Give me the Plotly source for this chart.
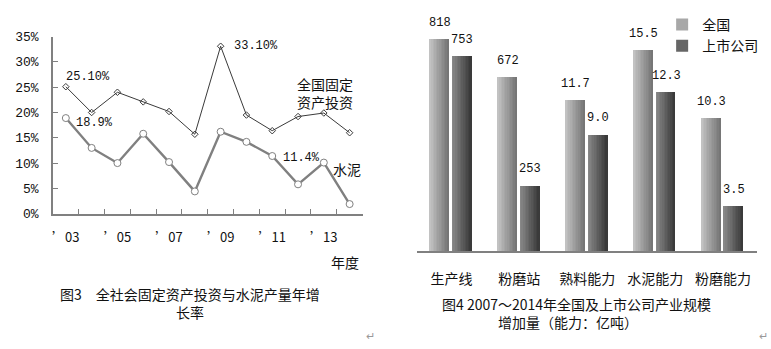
import plotly.graph_objects as go

# ---- Figure 3: annual growth rates (%) ----
years = ["2003", "2004", "2005", "2006", "2007", "2008",
         "2009", "2010", "2011", "2012", "2013", "2014"]
year_labels = ["\u201903", "", "\u201905", "", "\u201907", "",
               "\u201909", "", "\u201911", "", "\u201913", ""]
investment_growth = [25.1, 20.0, 24.0, 22.1, 20.2, 15.7,
                     33.1, 19.5, 16.4, 19.2, 19.9, 16.0]
cement_growth = [18.9, 13.0, 10.0, 15.8, 10.2, 4.4,
                 16.2, 14.2, 11.4, 5.8, 10.1, 1.9]
y_ticks = [0, 5, 10, 15, 20, 25, 30, 35]

# ---- Figure 4: 2007-2014 increments ----
count_items = ["生产线", "粉磨站"]
capacity_items = ["熟料能力", "水泥能力", "粉磨能力"]
national_counts = [818, 672]
listed_counts = [753, 253]
national_capacity = [11.7, 15.5, 10.3]
listed_capacity = [9.0, 12.3, 3.5]
count_labels_nat = ["818", "672"]
count_labels_lst = ["753", "253"]
cap_labels_nat = ["11.7", "15.5", "10.3"]
cap_labels_lst = ["9.0", "12.3", "3.5"]

CJK = "Noto Sans CJK SC"
MONO = "Liberation Mono"
AXIS_GRAY = "#808080"

fig = go.Figure()

# line chart
fig.add_trace(go.Scatter(
    x=years, y=investment_growth, mode="lines+markers",
    line=dict(color="#3a3a3a", width=1),
    marker=dict(symbol="diamond-open", size=5, color="#3a3a3a", line=dict(width=1)),
    xaxis="x", yaxis="y", showlegend=False, hoverinfo="skip"))
fig.add_trace(go.Scatter(
    x=years, y=cement_growth, mode="lines+markers",
    line=dict(color="#808080", width=2.4),
    marker=dict(symbol="circle", size=7, color="white",
                line=dict(color="#808080", width=1)),
    xaxis="x", yaxis="y", showlegend=False, hoverinfo="skip"))


def lerp_hex(c0, c1, t):
    a = [int(c0[i:i + 2], 16) for i in (1, 3, 5)]
    b = [int(c1[i:i + 2], 16) for i in (1, 3, 5)]
    return "#" + "".join(f"{round(a[j] + (b[j] - a[j]) * t):02x}" for j in range(3))


BAR_W = 0.284
N_STRIPES = 12
series = [
    ("全国", national_counts, national_capacity, -0.31, "#c2c2c2", "#767676", "#a8a8a8"),
    ("上市公司", listed_counts, listed_capacity, 0.02, "#888888", "#3a3a3a", "#666666"),
]

for name, counts, caps, off, c_left, c_right, c_mid in series:
    # base bar (also carries the legend entry)
    fig.add_trace(go.Bar(x=count_items, y=counts, offset=off, width=BAR_W,
                         marker=dict(color=c_mid, line=dict(width=0)),
                         name=name, xaxis="x2", yaxis="y3", hoverinfo="skip"))
    fig.add_trace(go.Bar(x=capacity_items, y=caps, offset=off, width=BAR_W,
                         marker=dict(color=c_mid, line=dict(width=0)),
                         name=name, showlegend=False, xaxis="x2", yaxis="y4",
                         hoverinfo="skip"))
    # horizontal shading drawn as thin vertical strips
    sw = BAR_W / N_STRIPES
    for k in range(N_STRIPES):
        col = lerp_hex(c_left, c_right, k / (N_STRIPES - 1))
        fig.add_trace(go.Bar(x=count_items, y=counts, offset=off + k * sw, width=sw * 1.05,
                             marker=dict(color=col, line=dict(width=0)),
                             showlegend=False, xaxis="x2", yaxis="y3", hoverinfo="skip"))
        fig.add_trace(go.Bar(x=capacity_items, y=caps, offset=off + k * sw, width=sw * 1.05,
                             marker=dict(color=col, line=dict(width=0)),
                             showlegend=False, xaxis="x2", yaxis="y4", hoverinfo="skip"))

annotations = []

# value labels above bars
PX_PER_CAT = 68.0
for items, vals, labels, yref, off in [
        (count_items, national_counts, count_labels_nat, "y3", -0.31),
        (count_items, listed_counts, count_labels_lst, "y3", 0.02),
        (capacity_items, national_capacity, cap_labels_nat, "y4", -0.31),
        (capacity_items, listed_capacity, cap_labels_lst, "y4", 0.02)]:
    for it, v, lab in zip(items, vals, labels):
        annotations.append(dict(
            x=it, y=v, xref="x2", yref=yref, text=lab, showarrow=False,
            xanchor="center", yanchor="bottom",
            xshift=(off + BAR_W / 2) * PX_PER_CAT, yshift=7,
            font=dict(family=MONO, size=12, color="#111")))

# labels on the line chart (x given as category index)
line_notes = [
    ("2003", investment_growth[0], "25.10%", -2, 10),
    ("2003", cement_growth[0], "18.9%", 8, -5),
    ("2009", investment_growth[6], "33.10%", 11, 0),
    ("2011", cement_growth[8], "11.4%", 9, -2),
]
for xv, yv, txt, dx, dy in line_notes:
    annotations.append(dict(x=years.index(xv), y=yv, xref="x", yref="y", text=txt,
                            showarrow=False, xanchor="left", yanchor="middle",
                            xshift=dx, yshift=dy,
                            font=dict(family=MONO, size=12, color="#111")))
annotations.append(dict(x=years.index("2013"), y=cement_growth[10], xref="x", yref="y",
                        text="水泥", showarrow=False, xanchor="left", yanchor="middle",
                        xshift=7, yshift=-6, font=dict(family=CJK, size=14, color="#111")))

CJK_DROP = 6  # CJK glyphs sit high in their line box


def paper_text(px, py, txt, size=14, anchor="center", align="center", color="#111",
               family=CJK):
    annotations.append(dict(x=px / 771, y=1 - (py + CJK_DROP) / 349, xref="paper",
                            yref="paper", text=txt, showarrow=False, xanchor=anchor,
                            yanchor="middle", align=align, borderpad=0,
                            font=dict(family=family, size=size, color=color)))


paper_text(324, 85, "全国固定<br>资产投资")
paper_text(344, 262, "年度")
paper_text(189, 304, "图3　全社会固定资产投资与水泥产量年增<br>长率")
paper_text(441, 315, "图4 2007～2014年全国及上市公司产业规模<br>　　　　增加量（能力：亿吨）",
           anchor="left", align="left")
paper_text(370, 338, "↵", size=11, color="#999")
paper_text(763, 338, "↵", size=11, color="#999")

H = 349.0
W = 771.0
fig.update_layout(
    width=771, height=349,
    margin=dict(l=0, r=0, t=0, b=0),
    paper_bgcolor="white", plot_bgcolor="white",
    font=dict(family=CJK, size=14, color="#111"),
    barmode="overlay", bargap=0,
    xaxis=dict(domain=[52 / W, 362 / W], type="category", categoryorder="array",
               categoryarray=years, range=[-0.5, len(years) - 0.5],
               tickmode="array", tickvals=years, ticktext=year_labels, tickangle=0,
               tickson="boundaries", ticks="inside", ticklen=5, tickcolor=AXIS_GRAY,
               showline=True, linecolor=AXIS_GRAY, linewidth=1.5, showgrid=False,
               zeroline=False, ticklabelstandoff=11,
               tickfont=dict(family=CJK, size=13, color="#111"), anchor="y"),
    yaxis=dict(domain=[(H - 217) / H, (H - 32) / H], range=[0, 35], tickvals=y_ticks,
               ticktext=[f"{v}%" for v in y_ticks], ticks="inside", ticklen=5,
               tickcolor=AXIS_GRAY, showline=True, linecolor=AXIS_GRAY, linewidth=1.5,
               showgrid=False, zeroline=False, ticklabelstandoff=10,
               tickfont=dict(family=MONO, size=13, color="#111"), anchor="x"),
    xaxis2=dict(domain=[417 / W, 757 / W], type="category", categoryorder="array",
                categoryarray=count_items + capacity_items, range=[-0.5, 4.5],
                showline=True, linecolor=AXIS_GRAY, linewidth=1.5, ticks="",
                showgrid=False, zeroline=False, ticklabelstandoff=14,
                tickfont=dict(family=CJK, size=14, color="#111"), anchor="y3"),
    yaxis3=dict(domain=[(H - 256) / H, (H - 12.5) / H], range=[0, 900], visible=False,
                anchor="x2"),
    yaxis4=dict(domain=[(H - 256) / H, (H - 12.5) / H], range=[0, 18], visible=False,
                overlaying="y3", anchor="x2"),
    legend=dict(x=662 / W, y=1 - 3 / H, xanchor="left", yanchor="top",
                font=dict(family=CJK, size=14, color="#111"), bgcolor="rgba(0,0,0,0)",
                itemwidth=30, tracegroupgap=0),
    annotations=annotations,
    hovermode=False,
)

fig.write_html("out.html")
